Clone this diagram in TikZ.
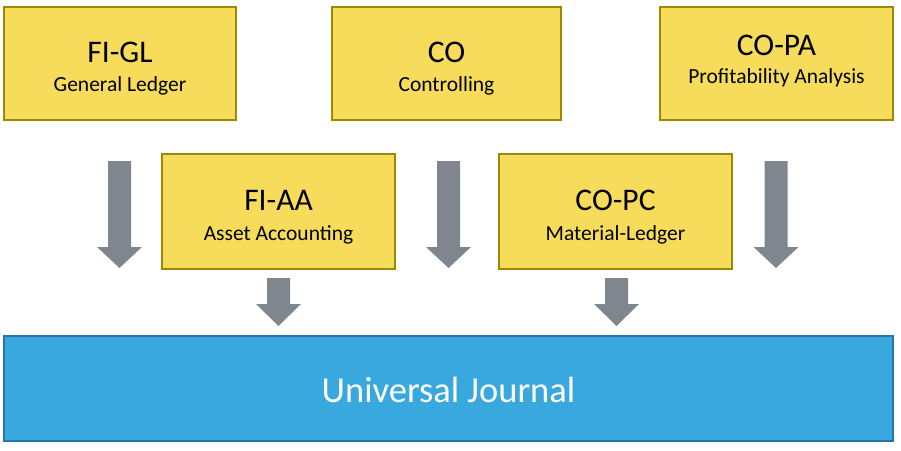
\documentclass[tikz,border=0pt]{standalone}
\usepackage{fontspec}
\setmainfont{Carlito}
\definecolor{boxyellow}{RGB}{246,220,90}
\definecolor{boxedge}{RGB}{158,136,0}
\definecolor{ujblue}{RGB}{57,168,223}
\definecolor{ujedge}{RGB}{36,118,166}
\definecolor{arrowgray}{RGB}{128,134,141}
\tikzset{
  modbox/.style={draw=boxedge, line width=2pt, fill=boxyellow},
  ujbox/.style={draw=ujedge, line width=2pt, fill=ujblue},
  titletxt/.style={anchor=base, inner sep=0pt, font=\fontsize{31.5}{34}\selectfont},
  subtxt/.style={anchor=base, inner sep=0pt, font=\fontsize{21.5}{24}\selectfont},
  ujtxt/.style={anchor=base, inner sep=0pt, text=white, font=\fontsize{36.5}{40}\selectfont},
  blkarrow/.style={fill=arrowgray}
}
\newcommand{\downblk}[4]{%
  \fill[blkarrow] (#1-11.5,#2) -- (#1+11.5,#2) -- (#1+11.5,#3) -- (#1+22.5,#3)
    -- (#1,#4) -- (#1-22.5,#3) -- (#1-11.5,#3) -- cycle;}
\begin{document}
\begin{tikzpicture}[x=1pt,y=-1pt]
\useasboundingbox (0,0) rectangle (901,450);
% top row boxes
\draw[modbox] (4,7) rectangle (236,120);
\node[titletxt] (figlT) at (120,62) {FI-GL};
\node[subtxt] (figlS) at (120,91) {General Ledger};

\draw[modbox] (332,7) rectangle (561,120);
\node[titletxt] (coT) at (446.5,62) {CO};
\node[subtxt] (coS) at (446.5,91) {Controlling};

\draw[modbox] (660,7) rectangle (893,120);
\node[titletxt] (copaT) at (776.5,55) {CO-PA};
\node[subtxt] (copaS) at (776.5,83) {Profitability Analysis};

% middle row boxes
\draw[modbox] (162,154) rectangle (395,269);
\node[titletxt] (fiaaT) at (278.5,210) {FI-AA};
\node[subtxt] (fiaaS) at (278.5,240) {Asset Accounting};

\draw[modbox] (499,154) rectangle (732,269);
\node[titletxt] (copcT) at (615.5,210) {CO-PC};
\node[subtxt] (copcS) at (615.5,240) {Material-Ledger};

% universal journal
\draw[ujbox] (4,336) rectangle (893,441);
\node[ujtxt] (uj) at (448.5,402) {Universal Journal};

% block arrows
\downblk{119.5}{161}{247}{268}
\downblk{448.5}{161}{247}{268}
\downblk{776}{161}{247}{268}
\downblk{278.5}{278}{304}{326}
\downblk{616.5}{278}{304}{326}
\end{tikzpicture}
\end{document}
